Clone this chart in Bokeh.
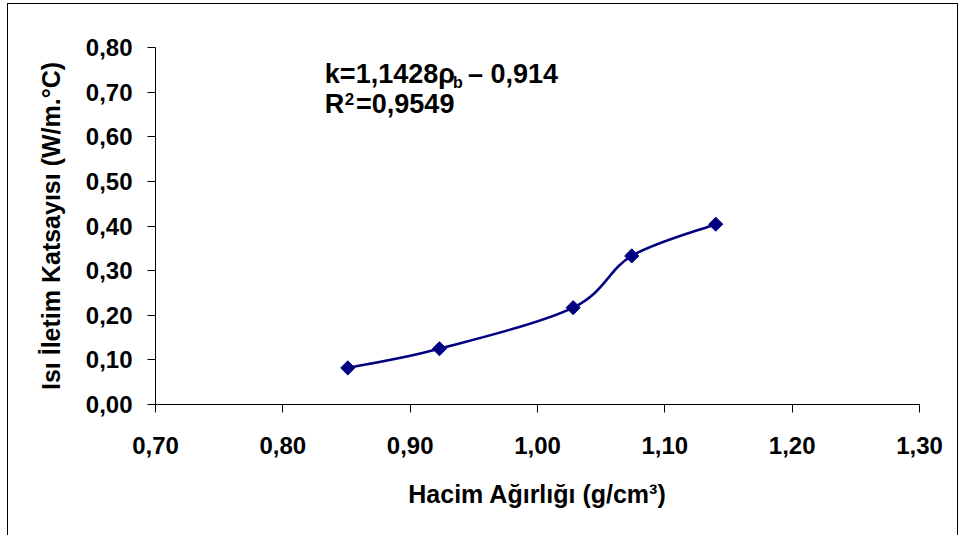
import numpy as np
from bokeh.plotting import figure
from bokeh.models import Range1d, FixedTicker, Label, InlineStyleSheet
from bokeh.embed import file_html
from bokeh.resources import INLINE

# ---- data ----
density = [0.851, 0.923, 1.028, 1.074, 1.140]          # Hacim Ağırlığı (g/cm3)
conductivity = [0.082, 0.125, 0.217, 0.333, 0.404]     # Isı İletim Katsayısı (W/m.°C)

x_ticks = [0.70, 0.80, 0.90, 1.00, 1.10, 1.20, 1.30]
x_tick_labels = ["0,70", "0,80", "0,90", "1,00", "1,10", "1,20", "1,30"]
y_ticks = [0.0, 0.1, 0.2, 0.3, 0.4, 0.5, 0.6, 0.7, 0.8]
y_tick_labels = ["0,00", "0,10", "0,20", "0,30", "0,40", "0,50", "0,60", "0,70", "0,80"]

x_title = "Hacim Ağırlığı (g/cm³)"
y_title = "Isı İletim Katsayısı (W/m.°C)"
eq_main = "k=1,1428ρ"
eq_sub = "b"
eq_rest = "– 0,914"
r2_main = "R"
r2_sup = "2"
r2_rest = "=0,9549"

FONT = "Liberation Sans"
NAVY = "#000080"

p = figure(width=958, height=535, output_backend="svg", toolbar_location=None,
           x_range=Range1d(0.70, 1.30), y_range=Range1d(0.0, 0.80),
           min_border_left=155, min_border_right=39, min_border_top=47, min_border_bottom=131)
p.stylesheets.append(InlineStyleSheet(css="""
:host { position: relative; }
:host::after { content: ''; position: absolute; left: 7px; top: 3px; right: 0px; bottom: 0px;
  border: 1px solid #000; border-bottom: none; pointer-events: none; }
"""))

p.outline_line_color = None
p.xgrid.grid_line_color = None
p.ygrid.grid_line_color = None
p.background_fill_color = "white"
p.border_fill_color = "white"

# axes
for ax, ticks, labels in ((p.xaxis[0], x_ticks, x_tick_labels), (p.yaxis[0], y_ticks, y_tick_labels)):
    ax.ticker = FixedTicker(ticks=ticks)
    ax.major_label_overrides = {t: l for t, l in zip(ticks, labels)}
    ax.minor_tick_line_color = None
    ax.major_tick_in = 0
    ax.major_tick_out = 8
    ax.axis_line_color = "#000000"
    ax.major_tick_line_color = "#000000"
    ax.major_label_text_font = FONT
    ax.major_label_text_font_style = "bold"
    ax.major_label_text_font_size = "24px"
    ax.major_label_text_color = "#000000"
    ax.axis_label_text_font = FONT
    ax.axis_label_text_font_style = "bold"
    ax.axis_label_text_font_size = "25px"
    ax.axis_label_text_color = "#000000"

p.xaxis[0].axis_label = x_title
p.yaxis[0].axis_label = y_title
p.xaxis[0].major_label_standoff = 24
p.yaxis[0].major_label_standoff = 15
p.xaxis[0].axis_label_standoff = 23
p.yaxis[0].axis_label_standoff = 18

# smoothed line (Catmull-Rom style Bezier through the data points)
xs = np.array(density)
ys = np.array(conductivity)
xp = np.concatenate([[xs[0]], xs, [xs[-1]]])
yp = np.concatenate([[ys[0]], ys, [ys[-1]]])
x0, y0 = xs[:-1], ys[:-1]
x1, y1 = xs[1:], ys[1:]
cx0 = x0 + (xp[2:-1] - xp[:-3]) / 6.0
cy0 = y0 + (yp[2:-1] - yp[:-3]) / 6.0
cx1 = x1 - (xp[3:] - xp[1:-2]) / 6.0
cy1 = y1 - (yp[3:] - yp[1:-2]) / 6.0
p.bezier(x0=x0, y0=y0, x1=x1, y1=y1, cx0=cx0, cy0=cy0, cx1=cx1, cy1=cy1,
         line_color=NAVY, line_width=2.5)

p.scatter(x=density, y=conductivity, marker="square", size=10, angle=np.pi / 4,
          fill_color=NAVY, line_color=NAVY, line_width=1)

# equation text
def lab(x, y, text, size, align="left"):
    p.add_layout(Label(x=x, y=y, text=text, text_font=FONT, text_font_style="bold",
                       text_font_size=size, text_color="#000000", text_baseline="alphabetic",
                       text_align=align))

lab(0.8330, 0.7395, eq_main, "27px")
lab(0.9336, 0.7220, eq_sub, "16px")
lab(1.0161, 0.7395, eq_rest, "27px", align="right")
lab(0.8330, 0.6745, r2_main, "27px")
lab(0.8487, 0.6840, r2_sup, "17px")
lab(0.8575, 0.6745, r2_rest, "27px")

open("out.html", "w").write(file_html(p, INLINE))
